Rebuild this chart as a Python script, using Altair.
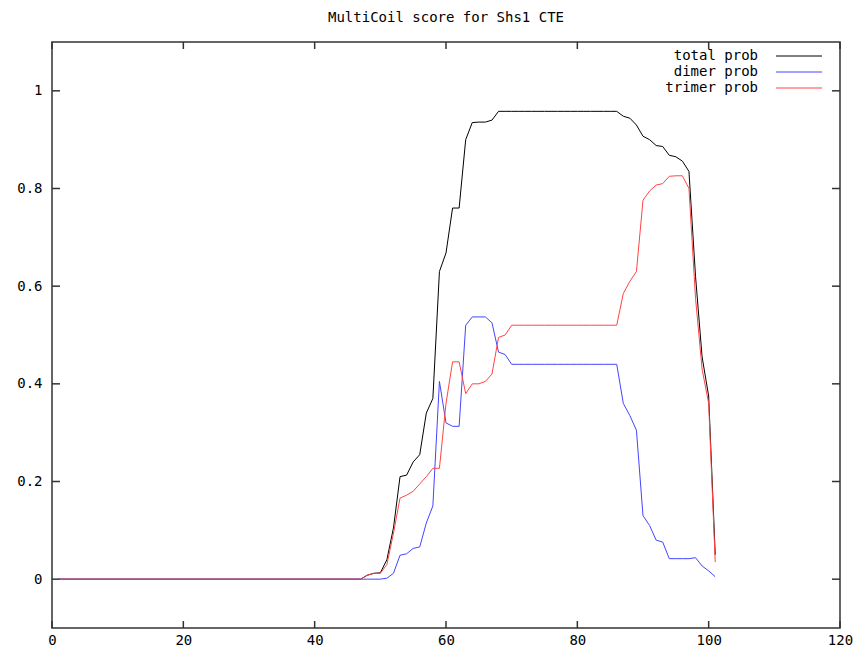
import altair as alt
import pandas as pd

# ---------------- data ----------------
residue = list(range(1, 102))

total_prob = [
    0, 0, 0, 0, 0, 0, 0, 0, 0, 0,
    0, 0, 0, 0, 0, 0, 0, 0, 0, 0,
    0, 0, 0, 0, 0, 0, 0, 0, 0, 0,
    0, 0, 0, 0, 0, 0, 0, 0, 0, 0,
    0, 0, 0, 0, 0, 0, 0.0, 0.008, 0.012, 0.013,          # 41-50
    0.04, 0.105, 0.21, 0.213, 0.24, 0.255, 0.34, 0.37, 0.63, 0.668,   # 51-60
    0.76, 0.76, 0.90, 0.935, 0.936, 0.936, 0.94, 0.958, 0.958, 0.958, # 61-70
    0.958, 0.958, 0.958, 0.958, 0.958, 0.958, 0.958, 0.958, 0.958, 0.958,  # 71-80
    0.958, 0.958, 0.958, 0.958, 0.958, 0.958, 0.948, 0.944, 0.93, 0.907,   # 81-90
    0.90, 0.888, 0.886, 0.868, 0.865, 0.856, 0.835, 0.62, 0.455, 0.375,    # 91-100
    0.05,                                                                  # 101
]

dimer_prob = [
    0, 0, 0, 0, 0, 0, 0, 0, 0, 0,
    0, 0, 0, 0, 0, 0, 0, 0, 0, 0,
    0, 0, 0, 0, 0, 0, 0, 0, 0, 0,
    0, 0, 0, 0, 0, 0, 0, 0, 0, 0,
    0, 0, 0, 0, 0, 0, 0, 0, 0, 0,                                       # 41-50
    0.002, 0.012, 0.049, 0.052, 0.063, 0.066, 0.115, 0.15, 0.405, 0.32, # 51-60
    0.313, 0.313, 0.52, 0.537, 0.537, 0.537, 0.525, 0.465, 0.46, 0.44,  # 61-70
    0.44, 0.44, 0.44, 0.44, 0.44, 0.44, 0.44, 0.44, 0.44, 0.44,         # 71-80
    0.44, 0.44, 0.44, 0.44, 0.44, 0.44, 0.36, 0.335, 0.305, 0.13,       # 81-90
    0.11, 0.08, 0.076, 0.042, 0.042, 0.042, 0.042, 0.044, 0.027, 0.017, # 91-100
    0.005,                                                              # 101
]

trimer_prob = [
    0, 0, 0, 0, 0, 0, 0, 0, 0, 0,
    0, 0, 0, 0, 0, 0, 0, 0, 0, 0,
    0, 0, 0, 0, 0, 0, 0, 0, 0, 0,
    0, 0, 0, 0, 0, 0, 0, 0, 0, 0,
    0, 0, 0, 0, 0, 0, 0.0, 0.008, 0.012, 0.012,                         # 41-50
    0.03, 0.094, 0.166, 0.172, 0.18, 0.195, 0.21, 0.227, 0.227, 0.36,   # 51-60
    0.445, 0.445, 0.38, 0.40, 0.40, 0.405, 0.42, 0.495, 0.50, 0.52,     # 61-70
    0.52, 0.52, 0.52, 0.52, 0.52, 0.52, 0.52, 0.52, 0.52, 0.52,         # 71-80
    0.52, 0.52, 0.52, 0.52, 0.52, 0.52, 0.585, 0.61, 0.63, 0.776,       # 81-90
    0.795, 0.807, 0.81, 0.825, 0.826, 0.826, 0.80, 0.575, 0.43, 0.36,   # 91-100
    0.035,                                                              # 101
]

series_names = ["total prob", "dimer prob", "trimer prob"]
series_fields = ["total", "dimer", "trimer"]
series_colors = ["#000000", "#4444ff", "#ff4444"]

x_ticks = [0, 20, 40, 60, 80, 100, 120]
y_ticks = [0, 0.2, 0.4, 0.6, 0.8, 1]
x_domain = [0, 120]
y_domain = [-0.1, 1.1]

title_text = "MultiCoil score for Shs1 CTE"

# ---------------- layout / style ----------------
W, H = 788, 586
FONT = "DejaVu Sans Mono"
FRAME = "#333333"

df = pd.DataFrame({
    "residue": residue,
    "total": total_prob,
    "dimer": dimer_prob,
    "trimer": trimer_prob,
})

xs = alt.Scale(domain=x_domain, nice=False, zero=False)
ys = alt.Scale(domain=y_domain, nice=False, zero=False)

x_axis = alt.Axis(values=x_ticks, ticks=False, domain=False, grid=False,
                  labelFont=FONT, labelFontSize=14, labelColor="black",
                  labelPadding=5, labelFlush=False, title=None, format="d")
y_axis = alt.Axis(values=y_ticks, ticks=False, domain=False, grid=False,
                  labelFont=FONT, labelFontSize=14, labelColor="black",
                  labelPadding=10, labelFlush=False, title=None, format="~g")

layers = []

# tick marks (inward, mirrored on all four sides)
xt = pd.DataFrame({"t": x_ticks})
yt = pd.DataFrame({"t": y_ticks})
for (ya, yb) in [(H, H - 7), (0, 7)]:
    layers.append(
        alt.Chart(xt).mark_rule(color=FRAME, strokeWidth=1.5).encode(
            x=alt.X("t:Q", scale=xs, axis=x_axis),
            y=alt.value(ya), y2=alt.value(yb),
        )
    )
for (xa, xb) in [(0, 8), (W, W - 8)]:
    layers.append(
        alt.Chart(yt).mark_rule(color=FRAME, strokeWidth=1.5).encode(
            y=alt.Y("t:Q", scale=ys, axis=y_axis),
            x=alt.value(xa), x2=alt.value(xb),
        )
    )

# data lines (black, then blue, then red on top)
for field, color in zip(series_fields, series_colors):
    layers.append(
        alt.Chart(df).mark_line(color=color, strokeWidth=1).encode(
            x=alt.X("residue:Q", scale=xs, axis=x_axis),
            y=alt.Y(f"{field}:Q", scale=ys, axis=y_axis),
        )
    )

# gnuplot-style key: label then line sample, top right inside the frame
for i, (name, color) in enumerate(zip(series_names, series_colors)):
    ld = pd.DataFrame({"label": [name]})
    yy = 14 + 16 * i
    layers.append(
        alt.Chart(ld).mark_text(font=FONT, fontSize=14, align="right",
                                baseline="middle", color="black").encode(
            text="label:N", x=alt.value(706), y=alt.value(yy)
        )
    )
    layers.append(
        alt.Chart(ld).mark_rule(color=color, strokeWidth=1).encode(
            x=alt.value(724), x2=alt.value(770), y=alt.value(yy)
        )
    )

chart = alt.layer(*layers).properties(
    width=W,
    height=H,
    title=alt.TitleParams(title_text, font=FONT, fontSize=14,
                          fontWeight="normal", color="black",
                          anchor="middle", offset=16),
    autosize=alt.AutoSizeParams(type="none"),
    padding={"left": 44, "top": 34, "right": 16, "bottom": 20},
    background="white",
).configure_view(stroke=FRAME, strokeWidth=1.5)

chart.save("out.html", embed_options={"renderer": "svg", "actions": False})
